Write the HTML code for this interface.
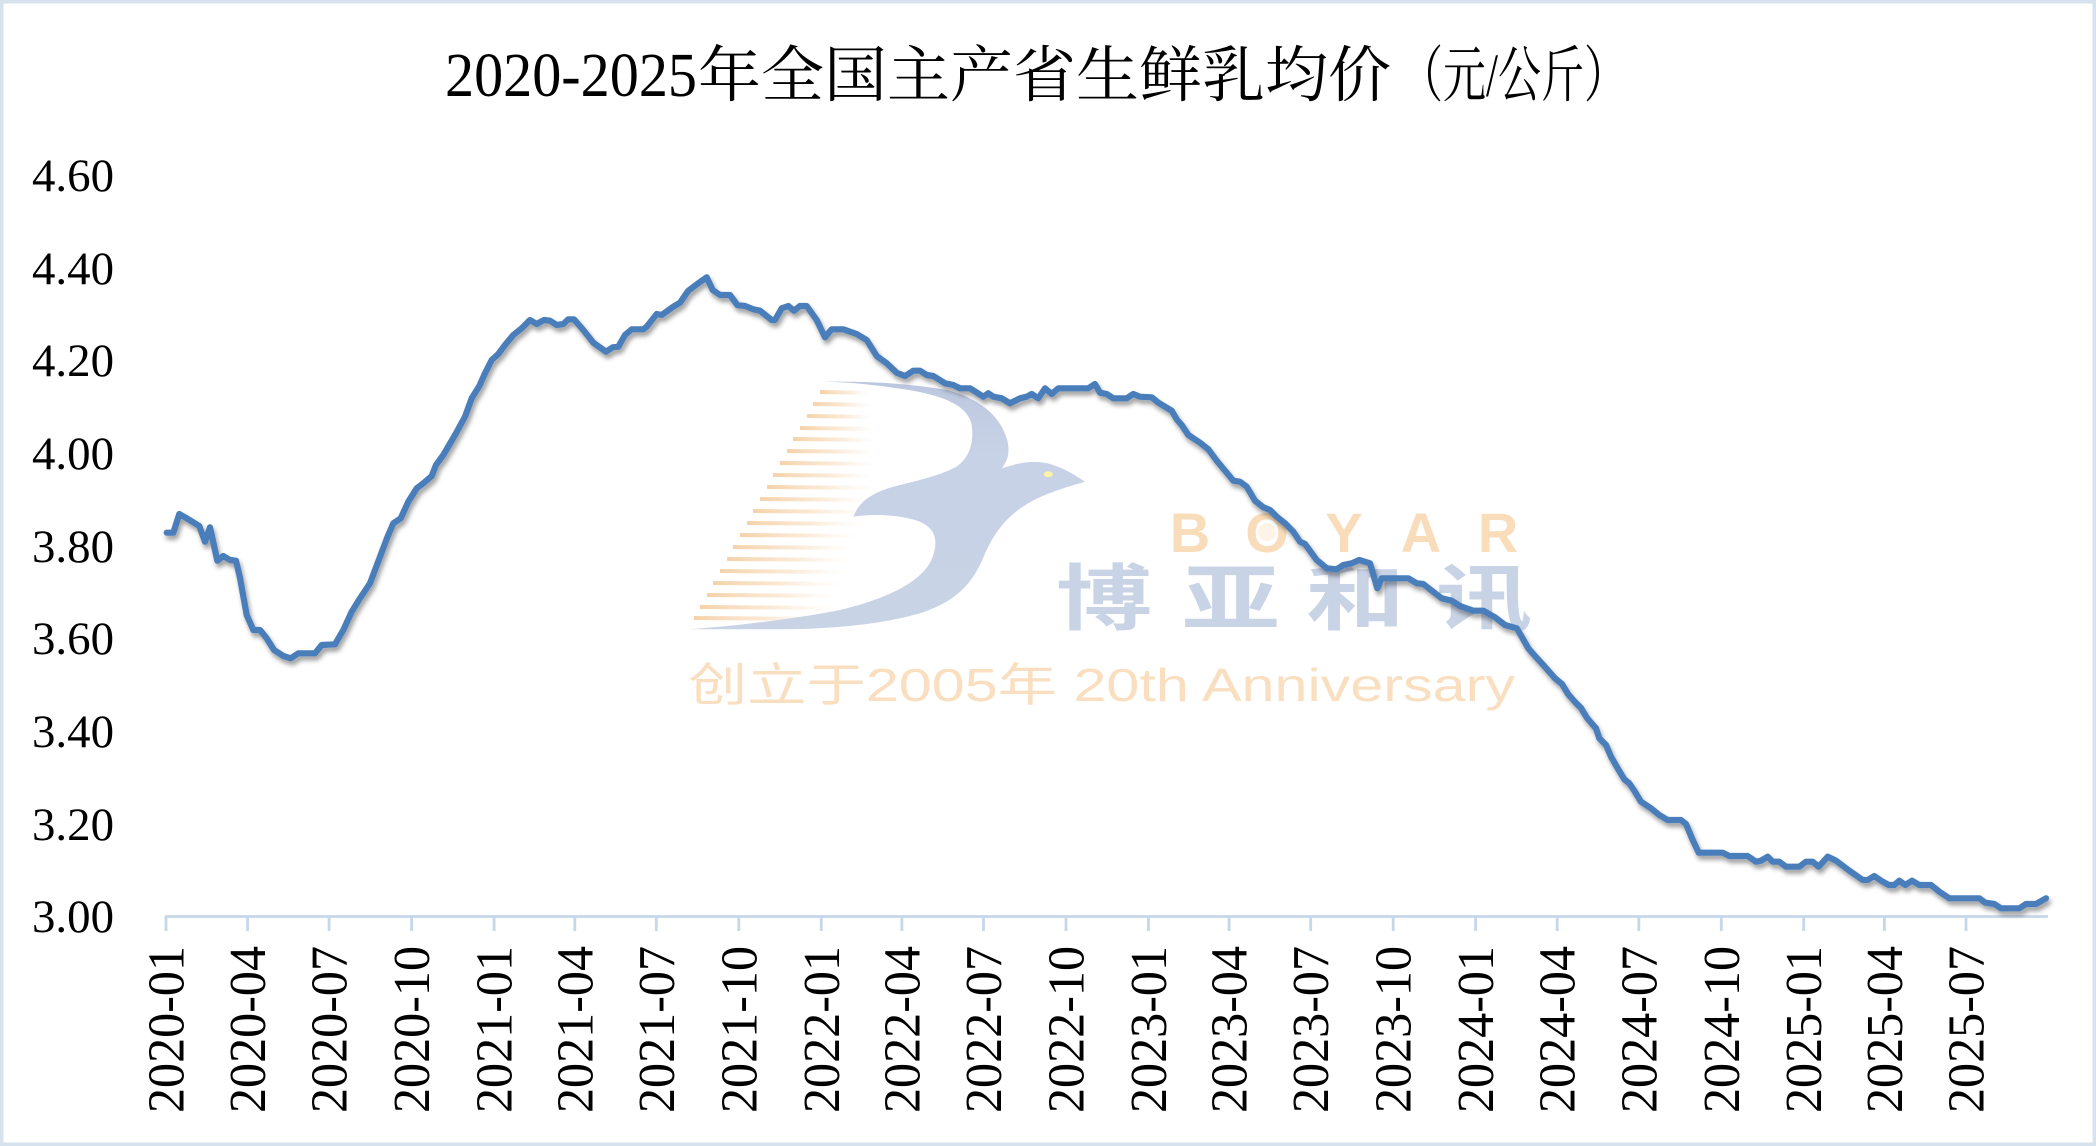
<!DOCTYPE html>
<html>
<head>
<meta charset="utf-8">
<style>
html,body{margin:0;padding:0;background:#fff;}
body{width:2096px;height:1146px;overflow:hidden;position:relative;}
svg{position:absolute;left:0;top:0;display:block;}
</style>
</head>
<body>
<svg width="2096" height="1146" viewBox="0 0 2096 1146" xmlns="http://www.w3.org/2000/svg">
  <defs>
    <filter id="sh" x="-5%" y="-10%" width="110%" height="130%">
      <feDropShadow dx="2" dy="4" stdDeviation="2.5" flood-color="#000" flood-opacity="0.38"/>
    </filter>
    <linearGradient id="stripe" x1="0" y1="0" x2="1" y2="0">
      <stop offset="0" stop-color="#f5cfa4" stop-opacity="0.95"/>
      <stop offset="0.55" stop-color="#f8dcbc" stop-opacity="0.6"/>
      <stop offset="1" stop-color="#fbe9d6" stop-opacity="0"/>
    </linearGradient>
    <linearGradient id="bird" x1="0" y1="0" x2="0" y2="1">
      <stop offset="0" stop-color="#bcc8e0"/>
      <stop offset="0.3" stop-color="#c8d2e6"/>
      <stop offset="1" stop-color="#c9d3e6"/>
    </linearGradient>
  </defs>

  <!-- border -->
  <rect x="1.75" y="1.75" width="2092.5" height="1142.5" fill="#fff" stroke="#d6e3ef" stroke-width="3.5"/>

  <!-- title -->
  <g font-family="'Liberation Serif','Noto Serif CJK SC',serif" fill="#000">
    <text x="445" y="96" font-size="62" textLength="252" lengthAdjust="spacingAndGlyphs">2020-2025</text>
    <text x="698" y="96" font-size="61" font-family="'Noto Serif CJK SC','Noto Sans CJK SC',serif" textLength="693" lengthAdjust="spacingAndGlyphs">年全国主产省生鲜乳均价</text>
    <text x="1400" y="96" font-size="61" font-family="'Liberation Serif','Noto Serif CJK SC',serif" textLength="227" lengthAdjust="spacingAndGlyphs">（元/公斤）</text>
  </g>

  <!-- watermark stripes -->
  <g fill="url(#stripe)">
    <polygon points="820,390 870,391 870,395 820,394"/>
    <polygon points="813,402 872,403 872,407 813,406"/>
    <polygon points="807,414 874,415 874,419 807,418"/>
    <polygon points="800,426 875,427 875,431 800,430"/>
    <polygon points="793,437 876,438 876,442 793,441"/>
    <polygon points="787,449 876,450 876,454 787,453"/>
    <polygon points="780,461 876,462 876,466 780,465"/>
    <polygon points="773,473 875,474 875,478 773,477"/>
    <polygon points="767,485 874,486 874,490 767,489"/>
    <polygon points="760,497 870,498 870,502 760,501"/>
    <polygon points="753,509 866,510 866,514 753,513"/>
    <polygon points="747,521 862,522 862,526 747,525"/>
    <polygon points="740,533 858,534 858,538 740,537"/>
    <polygon points="733,545 854,546 854,550 733,549"/>
    <polygon points="727,557 850,558 850,562 727,561"/>
    <polygon points="720,569 846,570 846,574 720,573"/>
    <polygon points="713,581 842,582 842,586 713,585"/>
    <polygon points="707,593 838,594 838,598 707,597"/>
    <polygon points="700,605 834,606 834,610 700,609"/>
    <polygon points="694,616 830,617 830,621 694,620"/>
  </g>

  <!-- watermark bird B -->
  <path fill="url(#bird)" d="
    M823.3,381.7
    C860,381.5 900,382 946.7,390
    C975,397 995,412 1003.3,430
    C1011,446 1010,458 1001.7,468.3
    L1013.3,465
    C1022,462 1040,460 1053.3,465
    C1065,469 1075,475 1085,481.7
    C1070,486 1050,492 1036,499
    C1010,512 995,530 984,556
    C972,585 955,602 920,613.3
    C880,625 830,629 780,629.3
    L690,629.3
    L713.3,627.3
    C750,624 800,618 840,610
    C890,598 925,580 933,556
    C939,538 934,526 915,520
    C893,514 870,514 853.3,516.7
    C858,505 866,496 886.7,488.7
    C905,483 935,478 956,467
    C970,458 975,440 971,422
    C965,404 940,394 896.7,388.3
    C870,384 845,382 823.3,381.7 Z"/>
  <ellipse cx="1048.3" cy="474.3" rx="4.5" ry="3" fill="#fbf2a6"/>

  <!-- BOYAR -->
  <g font-family="'Liberation Sans',sans-serif" font-weight="bold" font-size="56" fill="#f9dcba" text-anchor="middle">
    <text x="1190" y="552">B</text>
    <text x="1267" y="552">O</text>
    <text x="1344" y="552">Y</text>
    <text x="1421" y="552">A</text>
    <text x="1498" y="552">R</text>
  </g>
  <circle cx="1267" cy="532" r="9" fill="#fdf3e6"/>

  <!-- 博亚和讯 -->
  <g font-family="'Noto Sans CJK SC','WenQuanYi Zen Hei',sans-serif" font-weight="bold" font-size="72" fill="#c9d3e6">
    <text x="1056" y="624" textLength="96" lengthAdjust="spacingAndGlyphs">博</text>
    <text x="1182" y="624" textLength="98" lengthAdjust="spacingAndGlyphs">亚</text>
    <text x="1306" y="624" textLength="99" lengthAdjust="spacingAndGlyphs">和</text>
    <text x="1436" y="624" textLength="96" lengthAdjust="spacingAndGlyphs">讯</text>
  </g>

  <!-- anniversary -->
  <text x="688" y="701" font-family="'Liberation Sans','Noto Sans CJK SC',sans-serif" font-size="46" fill="#f9dfc0" textLength="827" lengthAdjust="spacingAndGlyphs">创立于2005年 20th Anniversary</text>

  <!-- y axis labels -->
  <g font-family="'Liberation Serif',serif" font-size="47" fill="#000" text-anchor="end">
    <text x="114" y="191" textLength="82" lengthAdjust="spacingAndGlyphs">4.60</text>
    <text x="114" y="284" textLength="82" lengthAdjust="spacingAndGlyphs">4.40</text>
    <text x="114" y="376" textLength="82" lengthAdjust="spacingAndGlyphs">4.20</text>
    <text x="114" y="469" textLength="82" lengthAdjust="spacingAndGlyphs">4.00</text>
    <text x="114" y="562" textLength="82" lengthAdjust="spacingAndGlyphs">3.80</text>
    <text x="114" y="654" textLength="82" lengthAdjust="spacingAndGlyphs">3.60</text>
    <text x="114" y="747" textLength="82" lengthAdjust="spacingAndGlyphs">3.40</text>
    <text x="114" y="840" textLength="82" lengthAdjust="spacingAndGlyphs">3.20</text>
    <text x="114" y="932" textLength="82" lengthAdjust="spacingAndGlyphs">3.00</text>
  </g>

  <!-- x axis -->
  <g stroke="#c6d7e9" stroke-width="2.8" fill="none">
    <line x1="165" y1="916.5" x2="2048" y2="916.5"/>
    <path d="M166,916 V931 M247.6,916 V931 M329.1,916 V931 M411.6,916 V931 M494.1,916 V931 M574.8,916 V931 M656.3,916 V931 M738.8,916 V931 M821.3,916 V931 M901.9,916 V931 M983.5,916 V931 M1066,916 V931 M1148.5,916 V931 M1229.1,916 V931 M1310.7,916 V931 M1393.2,916 V931 M1475.6,916 V931 M1557.2,916 V931 M1638.8,916 V931 M1721.3,916 V931 M1803.7,916 V931 M1884.4,916 V931 M1966,916 V931"/>
  </g>

  <!-- x tick labels -->
  <g font-family="'Liberation Serif',serif" font-size="52" fill="#000">
    <text transform="translate(183.5,1113) rotate(-90)" textLength="167" lengthAdjust="spacingAndGlyphs">2020-01</text>
    <text transform="translate(265.1,1113) rotate(-90)" textLength="167" lengthAdjust="spacingAndGlyphs">2020-04</text>
    <text transform="translate(346.6,1113) rotate(-90)" textLength="167" lengthAdjust="spacingAndGlyphs">2020-07</text>
    <text transform="translate(429.1,1113) rotate(-90)" textLength="167" lengthAdjust="spacingAndGlyphs">2020-10</text>
    <text transform="translate(511.6,1113) rotate(-90)" textLength="167" lengthAdjust="spacingAndGlyphs">2021-01</text>
    <text transform="translate(592.3,1113) rotate(-90)" textLength="167" lengthAdjust="spacingAndGlyphs">2021-04</text>
    <text transform="translate(673.8,1113) rotate(-90)" textLength="167" lengthAdjust="spacingAndGlyphs">2021-07</text>
    <text transform="translate(756.3,1113) rotate(-90)" textLength="167" lengthAdjust="spacingAndGlyphs">2021-10</text>
    <text transform="translate(838.8,1113) rotate(-90)" textLength="167" lengthAdjust="spacingAndGlyphs">2022-01</text>
    <text transform="translate(919.4,1113) rotate(-90)" textLength="167" lengthAdjust="spacingAndGlyphs">2022-04</text>
    <text transform="translate(1001,1113) rotate(-90)" textLength="167" lengthAdjust="spacingAndGlyphs">2022-07</text>
    <text transform="translate(1083.5,1113) rotate(-90)" textLength="167" lengthAdjust="spacingAndGlyphs">2022-10</text>
    <text transform="translate(1166,1113) rotate(-90)" textLength="167" lengthAdjust="spacingAndGlyphs">2023-01</text>
    <text transform="translate(1246.6,1113) rotate(-90)" textLength="167" lengthAdjust="spacingAndGlyphs">2023-04</text>
    <text transform="translate(1328.2,1113) rotate(-90)" textLength="167" lengthAdjust="spacingAndGlyphs">2023-07</text>
    <text transform="translate(1410.7,1113) rotate(-90)" textLength="167" lengthAdjust="spacingAndGlyphs">2023-10</text>
    <text transform="translate(1493.1,1113) rotate(-90)" textLength="167" lengthAdjust="spacingAndGlyphs">2024-01</text>
    <text transform="translate(1574.7,1113) rotate(-90)" textLength="167" lengthAdjust="spacingAndGlyphs">2024-04</text>
    <text transform="translate(1656.3,1113) rotate(-90)" textLength="167" lengthAdjust="spacingAndGlyphs">2024-07</text>
    <text transform="translate(1738.8,1113) rotate(-90)" textLength="167" lengthAdjust="spacingAndGlyphs">2024-10</text>
    <text transform="translate(1821.2,1113) rotate(-90)" textLength="167" lengthAdjust="spacingAndGlyphs">2025-01</text>
    <text transform="translate(1901.9,1113) rotate(-90)" textLength="167" lengthAdjust="spacingAndGlyphs">2025-04</text>
    <text transform="translate(1983.5,1113) rotate(-90)" textLength="167" lengthAdjust="spacingAndGlyphs">2025-07</text>
  </g>

  <!-- data line -->
  <polyline filter="url(#sh)" fill="none" stroke="#4a7ebb" stroke-width="6.2" stroke-linejoin="round" stroke-linecap="round" points="
166.7,532.7 173.3,532.7 179.3,514 186.7,518.3 199.3,526 205,541.7 210,527.3 217.3,560.7 223.3,556 230,560 236,560.7 240,578 246.7,615 253.3,630 260,630 266.7,638.3 274,650 283.3,656 290.7,658.3 298.3,653.3 315,653.3 321.7,645 335,644.3 343.3,630 351.7,611.7 360,598.3 370,583.3 380,556.7 387.3,537.3 393.3,523.3 400.7,518.3 408.3,501.7 416.7,488.3 423.3,483.3 431.7,476 436,465 443.3,455 455,435 465,416.7 471.7,398.3 479.3,386 485,373.3 491.7,360 498.3,354 505,345 513.3,335 521.7,328.3 530,320 536.7,324 544,320 550,320.7 556.7,325 563.3,324 568.3,319.3 574,319.3 583.3,330 593.3,342.7 606,351.7 612.7,347.3 618.3,346.7 625,335 631.7,329.3 643.3,329.3
646.7,326.7 656.7,314 661.7,315 673.3,306.7 680,302.7 688.3,290.7 698.3,283.3 706.7,277.3 712.7,290 720,295 730,295 737.3,305 745,306 753.3,309.3 760,310.7 771.7,320 775,320 781.7,308.3 788.3,306 794,310.7 800,306 806.7,306 816.7,320 825,337.3 831.7,329.3 843.3,329.3 856.7,334 866.7,340 876.7,356 886.7,363.3 896.7,372.7 905,376 913.3,370.7 920,370.7 926.7,375 933.3,376 945,383.3 953.3,385 960,388.3 970,388.3 983.3,396.7 988.3,393.3 993.3,396.7 1001.7,398.3 1010,403.3 1020,398.3 1026.7,396.7 1031.7,394 1038.3,398.3 1045,388.3 1051.7,394 1058.3,388.3 1088.3,388.3 1095,384 1100,392.7 1106.7,394 1113.3,398.3 1126.7,398.3 1133.3,394 1140,396.7
1151.7,397.3 1158.3,402.7 1171.7,410.7 1176.7,419.3 1181.7,425 1188.3,435 1200,442.7 1208.3,449.3 1216.7,460.7 1226.7,472.7 1233.3,480.7 1240,481.7 1246.7,486.7 1255,500.7 1263.3,507.3 1270,510 1276.7,516.7 1285,523.3 1293.3,531.7 1300,541.7 1305,544 1316.7,560 1326.7,568.3 1336.7,569.3 1343.3,565 1351.7,563.3 1359.3,560 1370,563.3 1377.3,588.3 1381.7,578.3 1408.3,578.3 1416.7,583.3 1423.3,584 1430,589.3 1441.7,598.3 1451.7,600.7 1460,606 1473.3,610.7 1483.3,610.7 1495,617.3 1505,625 1516.7,628.3 1521.7,636.7 1528.3,648.3 1535,656 1543.3,665 1555,678.3 1562,684 1568,694 1575,702 1581,708 1587,718
1596,728.3 1599.3,738.3 1606,745 1611,756.7 1617.7,768.3 1624.3,779.3 1629.3,783.3 1634.3,790.7 1641,801.7 1651,808.3 1659.3,815 1667.7,820 1681,820 1686,824 1692.7,840 1698.7,852.7 1722.7,852.7 1729.3,856 1747.7,856 1756,861.7 1761,860.7 1767.7,856.7 1772.7,861.7 1779.3,861.7 1786,866.7 1799.3,866.7 1806,861.7 1812.7,861.7 1818.7,866.7 1827.7,856.7 1836,860.7 1849.3,870.7 1862.7,880 1867.7,880 1874.3,876 1881,880.7 1888.7,885 1894.3,885 1899.3,880.7 1905.3,885 1912,880.7 1919.3,885 1931,885 1939.3,891.7 1949.3,898.3 1979.3,898.3 1985.3,902.7 1994.3,904 2001,908.3 2019.3,908.3 2026,904 2036,904 2046,898.3"/>
</svg>
</body>
</html>
